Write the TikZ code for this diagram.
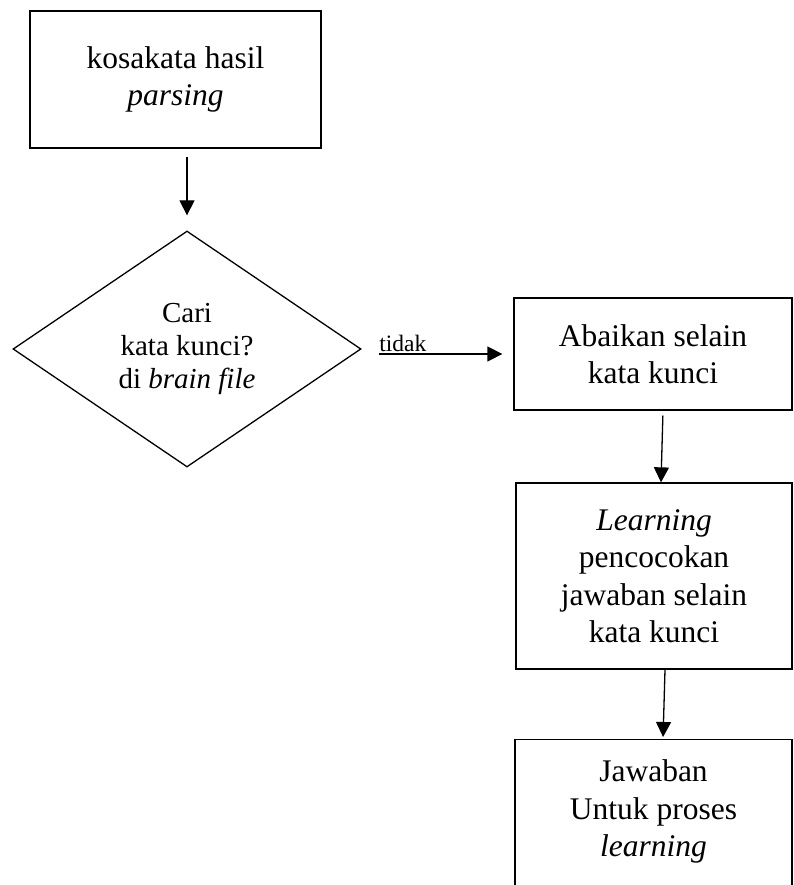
\documentclass[tikz,border=0pt]{standalone}
\usepackage{fontspec}
\setmainfont{Liberation Serif}
\usetikzlibrary{shapes.geometric,arrows.meta}

\begin{document}
\begin{tikzpicture}[x=1pt, y=-1pt, line width=1.3pt,
    box/.style={rectangle, draw, align=center, inner sep=0pt, font=\fontsize{31.5}{37.5}\selectfont},
    decision/.style={diamond, draw, aspect=1.47, align=center, inner sep=0pt, minimum width=348pt, minimum height=236pt, font=\fontsize{29}{33}\selectfont},
    flow/.style={-{Triangle[length=15pt,width=15pt]}}]
            \useasboundingbox (0,0) rectangle (793,885);
            \clip (0,0) rectangle (793,885);

            \node[box, minimum width=291pt, minimum height=137pt] (A) at (175.5,79.5) {kosakata hasil\\\textit{parsing}};
            \node[decision] (B) at (187,349) {Cari\\kata kunci?\\di \textit{brain file}};
            \node[box, minimum width=278pt, minimum height=112pt] (C) at (653,354) {Abaikan selain\\kata kunci};
            \node[box, minimum width=276pt, minimum height=186pt] (D) at (654,576) {\textit{Learning}\\pencocokan\\jawaban selain\\kata kunci};
            \node[box, minimum width=277pt, anchor=north, inner ysep=20pt, text depth=150pt] (E) at (653.5,739) {Jawaban\\Untuk proses\\\textit{learning}};

            \draw[flow, shorten <=8pt, shorten >=15pt] (A.south -| B.north) -- (B.north);
            \draw[flow, shorten <=17pt, shorten >=11pt] (B.east |- C.west) -- node[pos=0, anchor=south west, xshift=15pt, inner sep=2pt, font=\fontsize{23.5}{28}\selectfont] (T) {tidak} (C.west);
            \draw[flow, shorten <=5pt] ([xshift=10pt]C.south) -- ([xshift=7pt]D.north);
            \draw[flow, shorten >=2pt] ([xshift=11pt]D.south) -- ([xshift=9.5pt]E.north);
        \end{tikzpicture}
\end{document}
